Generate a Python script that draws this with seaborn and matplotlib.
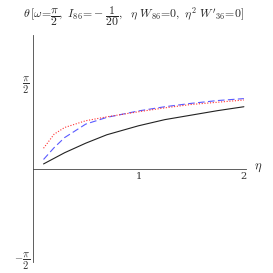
import numpy as np
import pandas as pd
import seaborn as sns
import matplotlib.pyplot as plt

# --- DATA ---
eta = [0.1, 0.2, 0.3, 0.5, 0.7, 1.0, 1.25, 1.5, 1.75, 2.0]
theta_black = [0.09, 0.19, 0.29, 0.46, 0.61, 0.77, 0.88, 0.96, 1.04, 1.11]
theta_blue = [0.17, 0.38, 0.56, 0.80, 0.92, 1.035, 1.11, 1.17, 1.22, 1.255]
theta_red = [0.37, 0.62, 0.74, 0.86, 0.93, 1.02, 1.09, 1.15, 1.19, 1.23]
series = ["black", "blue", "red"]
x_ticks = [1, 2]
x_tick_labels = ["1", "2"]
y_ticks = [np.pi / 2, -np.pi / 2]
y_tick_labels = [r"$\dfrac{\pi}{2}$", r"$-\dfrac{\pi}{2}$"]

df = pd.DataFrame({
    "eta": eta * 3,
    "theta": theta_black + theta_blue + theta_red,
    "curve": [s for s in series for _ in eta],
})

sns.set_style("white")
plt.rcParams["font.family"] = ["DejaVu Serif", "DejaVu Sans"]
plt.rcParams["mathtext.fontset"] = "cm"

fig = plt.figure(figsize=(2.73, 2.73), dpi=100)
ax = fig.add_axes([33 / 273, 0.040, 213 / 273, 0.832])

sns.lineplot(
    data=df, x="eta", y="theta", hue="curve", style="curve",
    palette={"black": "#222222", "blue": "#5a5aff", "red": "#ff3030"},
    dashes={"black": "", "blue": (6, 3), "red": (1, 1.5)},
    linewidth=0.8, legend=False, ax=ax,
)

ax.set_xlim(0, 2.02)
ax.set_ylim(-1.66, 2.39)

for side in ["top", "right"]:
    ax.spines[side].set_visible(False)
ax.spines["left"].set_position(("data", 0))
ax.spines["bottom"].set_position(("data", 0))
for side in ["left", "bottom"]:
    ax.spines[side].set_linewidth(0.6)
    ax.spines[side].set_color("#444444")

ax.set_xticks(x_ticks)
ax.set_xticklabels(x_tick_labels, fontsize=7)
ax.set_yticks(y_ticks)
ax.set_yticklabels(y_tick_labels, fontsize=7.5)
ax.tick_params(axis="both", direction="in", length=3, width=0.5, colors="#333333", pad=2)
ax.set_xlabel("")
ax.set_ylabel("")

fig.text(258 / 273, 1 - 168 / 273, r"$\eta$", fontsize=9, ha="center", va="center")
fig.text(0.49, 0.94,
         r"$\theta\,[\omega\!=\!\dfrac{\pi}{2},\ I_{86}\!=\!-\dfrac{1}{20},\ \ \eta\ W_{86}\!=\!0,\ \eta^2\ W'_{36}\!=\!0]$",
         fontsize=8.5, ha="center", va="center")

fig.savefig("out.png", dpi=100)
